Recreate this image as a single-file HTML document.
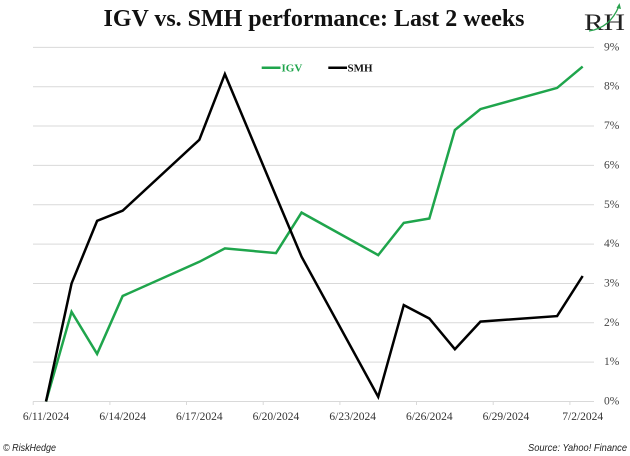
<!DOCTYPE html>
<html>
<head>
<meta charset="utf-8">
<style>
html,body{margin:0;padding:0;background:#fff;}
svg{display:block;}
</style>
</head>
<body>
<svg width="630" height="456" viewBox="0 0 630 456" xmlns="http://www.w3.org/2000/svg">
<rect width="630" height="456" fill="#fff"/>
<!-- Title -->
<text x="103.5" y="26" font-family="'Liberation Serif', serif" font-weight="bold" font-size="24" fill="#111" textLength="421" lengthAdjust="spacingAndGlyphs">IGV vs. SMH performance: Last 2 weeks</text>
<!-- Logo -->
<g>
<text x="584" y="30" font-family="'Liberation Serif', serif" font-size="23" fill="#222" textLength="41" lengthAdjust="spacingAndGlyphs">RH</text>
<path d="M589 31 Q610 28 619 6" fill="none" stroke="#2aa24f" stroke-width="1.3"/>
<path d="M616.5 8 L619.5 3 L621 9 Z" fill="#2aa24f"/>
</g>
<!-- Gridlines -->
<g stroke="#d9d9d9" stroke-width="1">
<line x1="33" y1="47.35" x2="594" y2="47.35"/>
<line x1="33" y1="86.7" x2="594" y2="86.7"/>
<line x1="33" y1="126.05" x2="594" y2="126.05"/>
<line x1="33" y1="165.4" x2="594" y2="165.4"/>
<line x1="33" y1="204.75" x2="594" y2="204.75"/>
<line x1="33" y1="244.1" x2="594" y2="244.1"/>
<line x1="33" y1="283.45" x2="594" y2="283.45"/>
<line x1="33" y1="322.8" x2="594" y2="322.8"/>
<line x1="33" y1="362.15" x2="594" y2="362.15"/>
<line x1="33" y1="401.5" x2="594" y2="401.5"/>
</g>
<!-- X ticks -->
<g stroke="#d9d9d9" stroke-width="1">
<line x1="33.2" y1="401.5" x2="33.2" y2="405"/>
<line x1="109.9" y1="401.5" x2="109.9" y2="405"/>
<line x1="186.5" y1="401.5" x2="186.5" y2="405"/>
<line x1="263.2" y1="401.5" x2="263.2" y2="405"/>
<line x1="339.9" y1="401.5" x2="339.9" y2="405"/>
<line x1="416.5" y1="401.5" x2="416.5" y2="405"/>
<line x1="493.2" y1="401.5" x2="493.2" y2="405"/>
<line x1="569.9" y1="401.5" x2="569.9" y2="405"/>
</g>
<!-- Y labels -->
<g font-family="'Liberation Serif', serif" font-size="11.5" fill="#444" dominant-baseline="central">
<text x="604" y="47.35">9%</text>
<text x="604" y="86.7">8%</text>
<text x="604" y="126.05">7%</text>
<text x="604" y="165.4">6%</text>
<text x="604" y="204.75">5%</text>
<text x="604" y="244.1">4%</text>
<text x="604" y="283.45">3%</text>
<text x="604" y="322.8">2%</text>
<text x="604" y="362.15">1%</text>
<text x="604" y="401.5">0%</text>
</g>
<!-- X labels -->
<g font-family="'Liberation Serif', serif" font-size="11.5" fill="#333" text-anchor="middle">
<text x="46" y="420">6/11/2024</text>
<text x="122.7" y="420">6/14/2024</text>
<text x="199.3" y="420">6/17/2024</text>
<text x="276" y="420">6/20/2024</text>
<text x="352.7" y="420">6/23/2024</text>
<text x="429.3" y="420">6/26/2024</text>
<text x="506" y="420">6/29/2024</text>
<text x="582.7" y="420">7/2/2024</text>
</g>
<!-- Series -->
<polyline fill="none" stroke="#1fa54c" stroke-width="2.5" stroke-linejoin="miter" points="46,401.5 71.56,311.8 97.11,353.9 122.67,296.0 199.33,261.8 224.89,248.4 276,253.1 301.56,212.6 378.22,255.1 403.78,222.9 429.33,218.5 454.89,130.0 480.44,109.1 557.11,87.9 582.67,66.6"/>
<polyline fill="none" stroke="#000" stroke-width="2.5" stroke-linejoin="miter" points="46,401.5 71.56,283.45 97.11,220.9 122.67,210.7 199.33,139.8 224.89,74.1 276,196.1 301.56,256.7 378.22,396.8 403.78,305.1 429.33,318.5 454.89,349.2 480.44,321.6 557.11,316.1 582.67,276.0"/>
<!-- Legend -->
<line x1="261.7" y1="67.7" x2="280.5" y2="67.7" stroke="#1fa54c" stroke-width="2.5"/>
<text x="281.5" y="71.5" font-family="'Liberation Serif', serif" font-weight="bold" font-size="11" fill="#1fa54c">IGV</text>
<line x1="328.3" y1="67.7" x2="347" y2="67.7" stroke="#000" stroke-width="2.5"/>
<text x="347.5" y="71.5" font-family="'Liberation Serif', serif" font-weight="bold" font-size="11" fill="#111">SMH</text>
<!-- Footer -->
<text x="3" y="451" font-family="'Liberation Sans', sans-serif" font-style="italic" font-size="10.5" fill="#222" textLength="53" lengthAdjust="spacingAndGlyphs">© RiskHedge</text>
<text x="627" y="451" text-anchor="end" font-family="'Liberation Sans', sans-serif" font-style="italic" font-size="10.5" fill="#222" textLength="99" lengthAdjust="spacingAndGlyphs">Source: Yahoo! Finance</text>
</svg>
</body>
</html>
